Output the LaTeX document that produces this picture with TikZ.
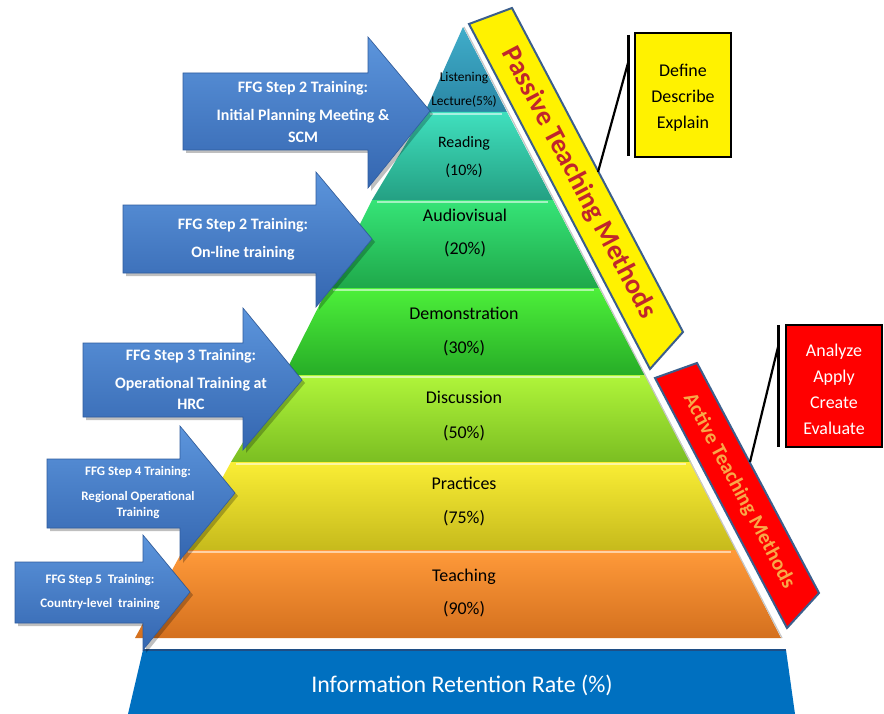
\documentclass[tikz,border=0pt]{standalone}
\usepackage{fontspec}
\setmainfont{Carlito}
\definecolor{t1T}{HTML}{40ADCA}\definecolor{t1B}{HTML}{2A86A4}
\definecolor{t2T}{HTML}{40E0BE}\definecolor{t2B}{HTML}{24A083}
\definecolor{t3T}{HTML}{36E477}\definecolor{t3B}{HTML}{1FA84A}
\definecolor{t4T}{HTML}{4DF03A}\definecolor{t4B}{HTML}{27AD27}
\definecolor{t5T}{HTML}{B0F53A}\definecolor{t5B}{HTML}{7BBE22}
\definecolor{t6T}{HTML}{FAEE35}\definecolor{t6B}{HTML}{C6BA1C}
\definecolor{t7T}{HTML}{FF9A3A}\definecolor{t7B}{HTML}{D4701E}
\definecolor{arrT}{HTML}{5C95DC}\definecolor{arrB}{HTML}{3466B0}
\definecolor{arrD}{HTML}{2F5C9E}
\definecolor{barfill}{HTML}{0070C0}\definecolor{barline}{HTML}{1F4E85}
\definecolor{bandline}{HTML}{3B5E8C}
\definecolor{passred}{HTML}{C0262C}
\definecolor{actorange}{HTML}{F8A848}
\newcommand\ptier[7]{%
  \shade[top color=#7T, bottom color=#7B] (#3,#1) -- (#4,#1) -- (#6,#2) -- (#5,#2) -- cycle;
  \draw[white, opacity=0.55, line width=2.5bp] (#3+5,#1+2) -- (#4-5,#1+2);
}
\newcommand\parrow[8]{% name, x0, top, bot, headbase, headtop, headbot, tip(x,y)
  \fill[black, opacity=0.25, xshift=3bp, yshift=-3bp] (#2,#3) -- (#5,#3) -- (#5,#6) -- #8 -- (#5,#7) -- (#5,#4) -- (#2,#4) -- cycle;
  \shadedraw[barrow] (#2,#3) -- (#5,#3) -- (#5,#6) -- #8 -- (#5,#7) -- (#5,#4) -- (#2,#4) -- cycle;
  \coordinate (#1) at #8;
}
\tikzset{
  barrow/.style={top color=arrT, bottom color=arrB, draw=arrD, line width=0.6bp},
  tierlbl/.style={align=center, inner sep=0pt, text=black},
  arrlbl/.style={align=center, inner sep=0pt, text=white},
  band/.style={draw=bandline, line width=2bp},
  bar/.style={line width=3bp, draw=black},
  leader/.style={line width=2.2bp, draw=black},
}
\begin{document}
\begin{tikzpicture}[x=1bp,y=-1bp]
\useasboundingbox (0,0) rectangle (884,714);
\fill[white] (0,0) rectangle (884,714);

% bottom bar
\fill[barfill] (143,650) -- (786,650) -- (795,714) -- (128,714) -- cycle;
\draw[barline, line width=1.5bp] (143,650) -- (786,650);
\node[inner sep=0pt, text=white, font=\fontsize{24}{28}\selectfont] (retention) at (462,685) {Information Retention Rate (\%)};

% pyramid tiers
\shade[top color=t1T, bottom color=t1B] (463,27) -- (507,112) -- (425,112) -- cycle;
\ptier{112}{200}{425}{507}{372}{553}{t2}
\ptier{200}{288}{372}{553}{328}{599}{t3}
\ptier{288}{375}{328}{599}{284}{645}{t4}
\ptier{375}{462}{284}{645}{231}{691}{t5}
\ptier{462}{550}{231}{691}{183}{736}{t6}
\ptier{550}{638}{183}{736}{135}{781}{t7}
\draw[gray!45, line width=1.2bp] (464,27) -- (782,638);

% tier labels
\node[tierlbl, font=\fontsize{13.5}{24}\selectfont] (listening) at (464,90) {Listening\\Lecture(5\%)};
\node[tierlbl, font=\fontsize{16}{28}\selectfont] (reading) at (464,157) {Reading\\(10\%)};
\node[tierlbl, font=\fontsize{18}{34}\selectfont] (audio) at (465,233) {Audiovisual\\(20\%)};
\node[tierlbl, font=\fontsize{18}{35}\selectfont] (demo) at (464,331.5) {Demonstration\\(30\%)};
\node[tierlbl, font=\fontsize{18}{35}\selectfont] (discuss) at (464,416.5) {Discussion\\(50\%)};
\node[tierlbl, font=\fontsize{18}{35}\selectfont] (practice) at (464,501.5) {Practices\\(75\%)};
\node[tierlbl, font=\fontsize{18}{34}\selectfont] (teaching) at (464,593) {Teaching\\(90\%)};

% arrows
\parrow{a1tip}{183}{73}{150}{368}{37}{188}{(430,111)}
\parrow{a2tip}{123}{205}{273}{316}{172}{307}{(372,239)}
\parrow{a3tip}{83}{343}{417}{243}{308}{450}{(302,380)}
\parrow{a4tip}{47}{459}{528}{180}{426}{560}{(235,493)}
\parrow{a5tip}{15}{562}{623}{143}{535}{650}{(190,592)}

\node[arrlbl, font=\bfseries\fontsize{16}{22}\selectfont] (a1txt) at (303,112) {FFG Step 2 Training:\\[6bp]Initial Planning Meeting \&\\SCM};
\node[arrlbl, font=\bfseries\fontsize{16}{28}\selectfont] (a2txt) at (243,239) {FFG Step 2 Training:\\On-line training};
\node[arrlbl, font=\bfseries\fontsize{16}{21}\selectfont] (a3txt) at (191,379.5) {FFG Step 3 Training:\\[7bp]Operational Training at\\HRC};
\node[arrlbl, font=\bfseries\fontsize{13}{16}\selectfont] (a4txt) at (138,492.5) {FFG Step 4 Training:\\[9bp]Regional Operational\\Training};
\node[arrlbl, font=\bfseries\fontsize{13}{24}\selectfont] (a5txt) at (100,592) {FFG Step 5\ \ Training:\\Country-level\ \ training};

% bands
\fill[yellow, band] (469,24) -- (512,8) -- (683,332) -- (650,369) -- cycle;
\fill[red, band] (655,378) -- (697,363) -- (819,593) -- (787,628) -- cycle;
\coordinate (passlead) at (598,172);
\coordinate (actlead) at (750,462);

\node[rotate=-62.25, inner sep=0pt, text=passred, font=\bfseries\fontsize{28}{30}\selectfont] (passive) at (578.5,183) {Passive Teaching Methods};
\node[rotate=-62.1, inner sep=0pt, text=actorange, font=\bfseries\fontsize{21}{24}\selectfont] (active) at (739,491) {Active Teaching Methods};

% callout boxes
\node[draw=black, line width=2.5bp, fill=yellow, minimum width=96bp, minimum height=124bp, inner sep=0pt] (defbox) at (683,95) {};
\node[tierlbl, font=\fontsize{18}{26}\selectfont] (deftxt) at (683,98) {Define\\Describe\\Explain};
\coordinate (defbarT) at (628,35);
\coordinate (defbarB) at (628,156);
\coordinate (defbarM) at (628,63);
\draw[bar] (defbarT) -- (defbarB);
\draw[leader] (defbarM) -- (passlead);

\node[draw=black, line width=2.5bp, fill=red, minimum width=96bp, minimum height=122bp, inner sep=0pt] (actbox) at (834,386) {};
\node[align=center, inner sep=0pt, text=white, font=\fontsize{18}{26}\selectfont] (acttxt) at (834,389) {Analyze\\Apply\\Create\\Evaluate};
\coordinate (actbarT) at (778,325);
\coordinate (actbarB) at (778,447);
\coordinate (actbarM) at (778,347);
\draw[bar] (actbarT) -- (actbarB);
\draw[leader] (actbarM) -- (actlead);
\end{tikzpicture}
\end{document}
